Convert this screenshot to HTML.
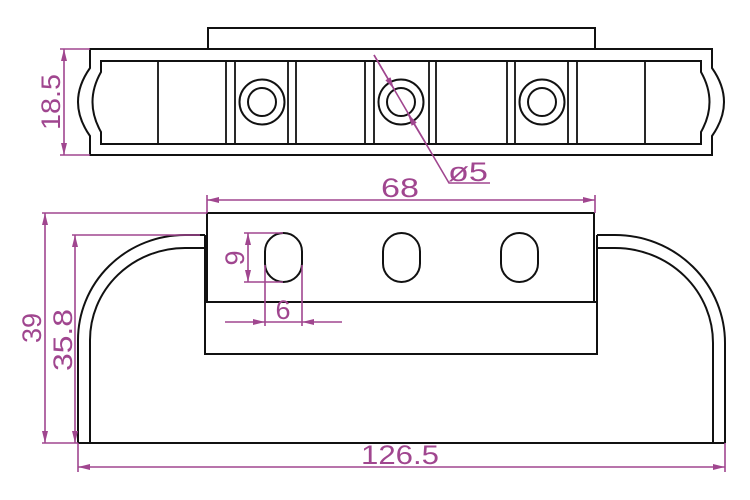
<!DOCTYPE html>
<html><head><style>html,body{margin:0;padding:0;background:#fff}svg{display:block}</style></head>
<body>
<svg width="750" height="500" viewBox="0 0 750 500" xmlns="http://www.w3.org/2000/svg">
<defs>
<marker id="a" viewBox="0 0 12 6" refX="12" refY="3" markerWidth="12" markerHeight="6" orient="auto-start-reverse" markerUnits="userSpaceOnUse"><path d="M0,0 L12,3 L0,6 z" fill="#a0468f"/></marker>
</defs>
<g fill="none" stroke="#111" stroke-width="2">
<rect x="208" y="28" width="387" height="21"/>
<path d="M90,49 H712 V68 Q736,102 712,136 V155 H90 V136 Q66,102 90,68 Z" fill="#fff"/>
<path d="M101,61 H701 V72 Q718,102 701,132 V144 H101 V132 Q84,102 101,72 Z"/>
<g stroke-width="1.8">
<line x1="158" y1="61" x2="158" y2="144"/>
<line x1="226" y1="61" x2="226" y2="144"/><line x1="235" y1="61" x2="235" y2="144"/>
<line x1="288" y1="61" x2="288" y2="144"/><line x1="296" y1="61" x2="296" y2="144"/>
<line x1="365" y1="61" x2="365" y2="144"/><line x1="374" y1="61" x2="374" y2="144"/>
<line x1="429" y1="61" x2="429" y2="144"/><line x1="436" y1="61" x2="436" y2="144"/>
<line x1="507" y1="61" x2="507" y2="144"/><line x1="515" y1="61" x2="515" y2="144"/>
<line x1="568" y1="61" x2="568" y2="144"/><line x1="577" y1="61" x2="577" y2="144"/>
<line x1="645" y1="61" x2="645" y2="144"/>
</g>
<circle cx="262" cy="102" r="22.5"/><circle cx="262" cy="102" r="14"/>
<circle cx="401" cy="102" r="22.5"/><circle cx="401" cy="102" r="14"/>
<circle cx="542" cy="102" r="22.5"/><circle cx="542" cy="102" r="14"/>
<rect x="207" y="213" width="387" height="89"/>
<rect x="205" y="302" width="392" height="52"/>
<rect x="265" y="233" width="37" height="49" rx="18.5"/>
<rect x="383" y="233" width="37" height="49" rx="18.5"/>
<rect x="501" y="233" width="37" height="49" rx="18.5"/>
<path d="M78,443 H725"/>
<path d="M205,235 H185 A107,105 0 0 0 78,340 V443"/>
<path d="M205,248 H185 A95,92 0 0 0 90,340 V443"/>
<path d="M597,235 H615 A110,108 0 0 1 725,343 V443"/>
<path d="M597,248 H615 A98,95 0 0 1 713,343 V443"/>
<line x1="205" y1="235" x2="205" y2="302"/>
<line x1="597" y1="235" x2="597" y2="302"/>
</g>
<g stroke="#a0468f" stroke-width="1.6" fill="none">
<line x1="60" y1="49" x2="90" y2="49"/><line x1="60" y1="155" x2="90" y2="155"/>
<line x1="64" y1="49" x2="64" y2="155" marker-start="url(#a)" marker-end="url(#a)"/>
<polyline points="374,55 449,183 490,183"/>
<line x1="374" y1="55" x2="394" y2="89" marker-end="url(#a)"/>
<line x1="425" y1="142" x2="408" y2="114" marker-end="url(#a)"/>
<line x1="207" y1="195" x2="207" y2="213"/><line x1="595" y1="195" x2="595" y2="213"/>
<line x1="207" y1="200" x2="595" y2="200" marker-start="url(#a)" marker-end="url(#a)"/>
<line x1="42" y1="213" x2="207" y2="213"/><line x1="42" y1="443" x2="78" y2="443"/>
<line x1="45" y1="213" x2="45" y2="443" marker-start="url(#a)" marker-end="url(#a)"/>
<line x1="72" y1="235" x2="200" y2="235"/>
<line x1="75" y1="235" x2="75" y2="443" marker-start="url(#a)" marker-end="url(#a)"/>
<line x1="78" y1="443" x2="78" y2="472"/><line x1="725" y1="443" x2="725" y2="472"/>
<line x1="78" y1="467" x2="725" y2="467" marker-start="url(#a)" marker-end="url(#a)"/>
<line x1="244" y1="233" x2="283" y2="233"/><line x1="244" y1="282" x2="283" y2="282"/>
<line x1="248" y1="233" x2="248" y2="282" marker-start="url(#a)" marker-end="url(#a)"/>
<line x1="265" y1="265" x2="265" y2="326"/><line x1="302" y1="265" x2="302" y2="326"/>
<line x1="225" y1="322" x2="265" y2="322" marker-end="url(#a)"/>
<line x1="342" y1="322" x2="302" y2="322" marker-end="url(#a)"/>
<line x1="265" y1="322" x2="302" y2="322"/>
</g>
<g fill="#a0468f" font-family="Liberation Sans, sans-serif" font-size="27">
<text x="400" y="197" text-anchor="middle" textLength="38" lengthAdjust="spacingAndGlyphs">68</text>
<text x="448" y="181" textLength="40" lengthAdjust="spacingAndGlyphs">ø5</text>
<text x="400" y="464" text-anchor="middle" textLength="78" lengthAdjust="spacingAndGlyphs">126.5</text>
<text x="283" y="319" text-anchor="middle">6</text>
<text transform="translate(60,102) rotate(-90)" text-anchor="middle" textLength="56" lengthAdjust="spacingAndGlyphs">18.5</text>
<text transform="translate(41,328) rotate(-90)" text-anchor="middle">39</text>
<text transform="translate(72,340) rotate(-90)" text-anchor="middle" textLength="62" lengthAdjust="spacingAndGlyphs">35.8</text>
<text transform="translate(244,258) rotate(-90)" text-anchor="middle">9</text>
</g>
</svg>
</body></html>
